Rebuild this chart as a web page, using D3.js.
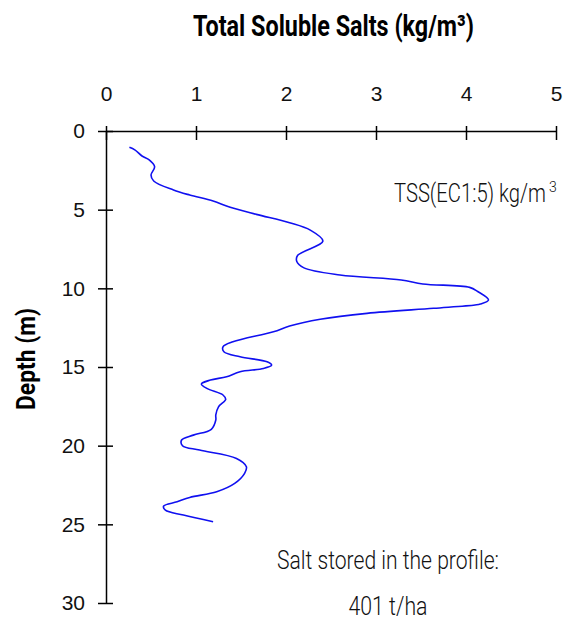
<!DOCTYPE html>
<html>
<head>
<meta charset="utf-8">
<script src="https://cdn.jsdelivr.net/npm/d3@7"></script>
<style>
  body { margin: 0; background: #fff; }
</style>
</head>
<body>
<div id="chart"></div>
<script>
// depth (m) and TSS (kg/m3) read along the profile
const depth = [1.04, 1.2, 1.59, 1.84, 2.27, 2.8, 3.18, 3.75, 4.07, 4.45, 4.85, 5.3, 5.83,
  6.3, 7.0, 7.9, 8.3, 8.7, 9.15, 9.47, 9.72, 9.94, 10.2, 10.74, 11.0, 11.06, 11.27, 11.59,
  11.97, 12.4, 12.76, 13.4, 13.72, 14.03, 14.35, 14.67, 14.88, 15.09, 15.3, 15.62, 15.83,
  16.08, 16.36, 16.78, 17.06, 17.53, 18.05, 18.37, 18.96, 19.33, 19.64, 20.0, 20.28,
  20.81, 21.34, 21.76, 22.4, 22.93, 23.29, 23.57, 23.84, 24.1, 24.41, 24.84];
const tss = [0.26, 0.32, 0.40, 0.48, 0.54, 0.50, 0.53, 0.75, 0.93, 1.19, 1.38, 1.67, 2.04,
  2.27, 2.41, 2.13, 2.12, 2.2, 2.6, 3.28, 3.52, 4.04, 4.13, 4.25, 4.16, 4.1, 3.64, 2.9,
  2.38, 2.04, 1.86, 1.41, 1.30, 1.31, 1.49, 1.79, 1.84, 1.75, 1.49, 1.34, 1.16,
  1.06, 1.12, 1.30, 1.33, 1.25, 1.22, 1.22, 1.17, 0.97, 0.84, 0.85, 1.04,
  1.45, 1.56, 1.54, 1.43, 1.23, 0.93, 0.79, 0.64, 0.66, 0.86, 1.19];

const xTicks = [0, 1, 2, 3, 4, 5];
const yTicks = [0, 5, 10, 15, 20, 25, 30];
const title = "Total Soluble Salts (kg/m³)";
const yTitle = "Depth (m)";
const seriesLabel = "TSS(EC1:5) kg/m";
const note = ["Salt stored in the profile:", "401 t/ha"];

const WIDTH = 565, HEIGHT = 617;
const COND = "Roboto, sans-serif";
const TICKFONT = "'Liberation Sans', Arial, sans-serif";

const svg = d3.select("#chart").append("svg")
  .attr("width", WIDTH).attr("height", HEIGHT);

const x = d3.scaleLinear().domain([0, 5]).range([106, 556]);
const y = d3.scaleLinear().domain([0, 30]).range([131, 603]);

// x axis on top, ticks crossing the line
const xAxis = svg.append("g")
  .attr("transform", `translate(0, ${y(0)})`)
  .call(d3.axisTop(x).tickValues(xTicks).tickFormat(d3.format("d")).tickSize(0).tickPadding(30));
xAxis.select(".domain").attr("stroke", "#000").attr("stroke-width", 1.5);
xAxis.selectAll(".tick line").attr("y1", -5).attr("y2", 9)
  .attr("stroke", "#000").attr("stroke-width", 1.5);
xAxis.selectAll(".tick text").attr("dy", "0")
  .attr("font-family", TICKFONT).attr("font-size", 21).attr("fill", "#111");

const yAxis = svg.append("g")
  .attr("transform", `translate(${x(0)}, 0)`)
  .call(d3.axisLeft(y).tickValues(yTicks).tickFormat(d3.format("d")).tickSize(0).tickPadding(21));
yAxis.select(".domain").attr("stroke", "#000").attr("stroke-width", 1.5);
yAxis.selectAll(".tick line").attr("x1", -8).attr("x2", 7)
  .attr("stroke", "#000").attr("stroke-width", 1.5);
yAxis.selectAll(".tick text")
  .attr("font-family", TICKFONT).attr("font-size", 21).attr("fill", "#111");

const pts = depth.map((d, i) => [tss[i], d]);
svg.append("path")
  .datum(pts)
  .attr("fill", "none")
  .attr("stroke", "#1010f0")
  .attr("stroke-width", 1.6)
  .attr("d", d3.line().x(d => x(d[0])).y(d => y(d[1])).curve(d3.curveCatmullRom));

svg.append("text")
  .attr("x", 333.5).attr("y", 36)
  .attr("text-anchor", "middle")
  .attr("font-family", COND).attr("font-size", 30).attr("font-weight", "bold")
  .attr("textLength", 281).attr("lengthAdjust", "spacingAndGlyphs")
  .text(title);

svg.append("text")
  .attr("transform", `translate(35, 359) rotate(-90)`)
  .attr("text-anchor", "middle")
  .attr("font-family", COND).attr("font-size", 25).attr("font-weight", "bold")
  .attr("textLength", 102).attr("lengthAdjust", "spacingAndGlyphs")
  .text(yTitle);

svg.append("text")
  .attr("x", 394).attr("y", 202)
  .attr("font-family", COND).attr("font-size", 25).attr("font-weight", 300).attr("fill", "#111")
  .attr("textLength", 152).attr("lengthAdjust", "spacingAndGlyphs")
  .text(seriesLabel);
svg.append("text")
  .attr("x", 549).attr("y", 192)
  .attr("font-family", COND).attr("font-size", 14).attr("font-weight", 300).attr("fill", "#111")
  .text("3");

const noteWidth = [222, 79];
svg.selectAll(".note").data(note).enter().append("text")
  .attr("class", "note")
  .attr("x", 388).attr("y", (d, i) => 569 + i * 46)
  .attr("text-anchor", "middle")
  .attr("font-family", COND).attr("font-size", 25).attr("font-weight", 300).attr("fill", "#111")
  .attr("textLength", (d, i) => noteWidth[i]).attr("lengthAdjust", "spacingAndGlyphs")
  .text(d => d);
</script>
</body>
</html>
